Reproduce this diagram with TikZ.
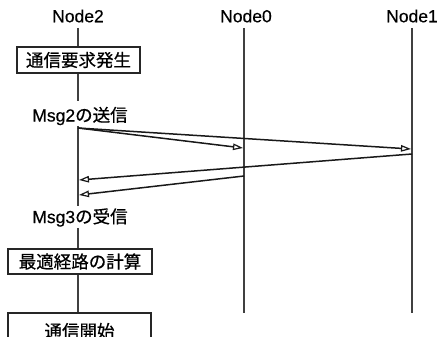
\documentclass[tikz,border=0pt]{standalone}
\usepackage{fontspec}
\setmainfont[FakeBold=0.4]{Liberation Sans}
\newfontfamily\jp[FakeBold=0.6]{Noto Sans CJK JP}
\usetikzlibrary{arrows.meta}
\begin{document}
\begin{tikzpicture}[x=1pt,y=-1pt,
  lbl/.style={font=\fontsize{17.5}{20}\selectfont, inner sep=0pt},
  lifeline/.style={line width=2.6pt, draw=black!75},
  box/.style={draw=black!85, line width=2.2pt, inner sep=0pt, fill=white,
              font=\fontsize{17.5}{20}\selectfont\jp},
  msg/.style={line width=1.5pt, draw=black!90,
              -{Triangle[open,length=10pt,width=6.5pt,line width=1.2pt]}}]
\useasboundingbox (0,0) rectangle (440,337);
\clip (0,0) rectangle (440,337);

% headers
\node[lbl] (n2) at (78,16) {Node2};
\node[lbl] (n0) at (246,16) {Node0};
\node[lbl] (n1) at (412,16) {Node1};

% lifeline end points
\coordinate (n2top) at (78,28);
\coordinate (n0top) at (244,28);
\coordinate (n0bot) at (244,313);
\coordinate (n1top) at (412,28);
\coordinate (n1bot) at (412,313);

% Node2 steps
\node[box, minimum width=123pt, minimum height=26pt] (b1) at (78.5,60) {通信要求発生};
\node[lbl] (m2) at (80,116) {Msg2{\jp の送信}};
\node[lbl] (m3) at (80,217.5) {Msg3{\jp の受信}};
\node[box, minimum width=144pt, minimum height=25pt] (b2) at (80,261.5) {最適経路の計算};
\node[box, minimum width=143pt, minimum height=36pt] (b3) at (79.5,331) {通信開始};

\coordinate (m2top) at (78,101);
\coordinate (m2bot) at (78,126);
\coordinate (m3top) at (78,206);
\coordinate (m3bot) at (78,228);

% lifelines
\draw[lifeline] (n0top) -- (n0bot);
\draw[lifeline] (n1top) -- (n1bot);
\draw[lifeline] (n2top) -- (b1.north -| n2top);
\draw[lifeline] (b1.south -| n2top) -- (m2top);
\draw[lifeline] (m2bot) -- (m3top);
\draw[lifeline] (m3bot) -- (b2.north -| n2top);
\draw[lifeline] (b2.south -| n2top) -- (b3.north -| n2top);

% message points
\coordinate (s2) at (78,128);
\coordinate (a0) at (243,148);
\coordinate (a1) at (411,149);
\coordinate (r1) at (412,154);
\coordinate (e1) at (79,180);
\coordinate (r0) at (244,176);
\coordinate (e0) at (79,195);

\draw[msg] (s2) -- (a0);
\draw[msg] (s2) -- (a1);
\draw[msg] (r1) -- (e1);
\draw[msg] (r0) -- (e0);
\end{tikzpicture}
\end{document}
